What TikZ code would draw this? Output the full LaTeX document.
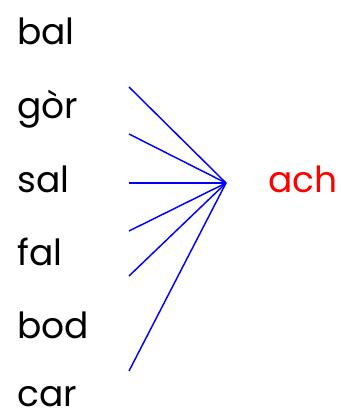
\documentclass[tikz,border=0pt]{standalone}
\usepackage{fontspec}
\setmainfont{Poppins}
\begin{document}
\begin{tikzpicture}[x=0.75pt,y=-0.75pt,
  word/.style={anchor=base west,inner sep=0pt,text depth=0pt,font=\fontsize{27}{30}\selectfont},
  link/.style={blue,line width=1.1pt}]
\useasboundingbox (0,0) rectangle (341,418);
\node[word] (w1) at (17,44) {bal};
\node[word] (w2) at (17,118) {gòr};
\node[word] (w3) at (17,192) {sal};
\node[word] (w4) at (17,265) {fal};
\node[word] (w5) at (17,338) {bod};
\node[word] (w6) at (17,406) {car};
\node[word,red] (ach) at (268,192) {ach};
\coordinate (c) at (226,183);
\coordinate (s1) at (129,87);
\coordinate (s2) at (129,134);
\coordinate (s3) at (129,183);
\coordinate (s4) at (129,231);
\coordinate (s5) at (129,276);
\coordinate (s6) at (129,371);
\foreach \i in {1,...,6} \draw[link] (s\i) -- (c);
\end{tikzpicture}
\end{document}
